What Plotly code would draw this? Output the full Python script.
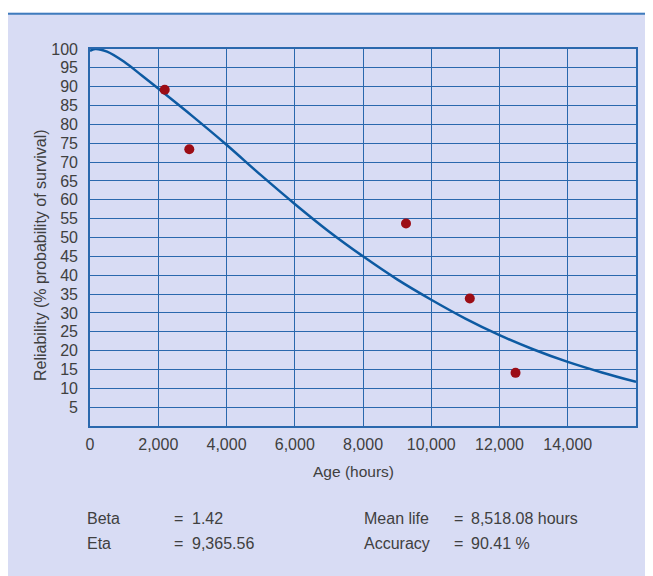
import plotly.graph_objects as go

# ---- data ----
curve_age = [0, 150, 500, 1000, 1500, 2000, 3000, 4000, 5000, 6000, 7000, 8000,
             9000, 10000, 11000, 12000, 13000, 14000, 15000, 16000]
curve_rel = [99.5, 100.0, 99.3, 96.6, 93.1, 89.5, 82.2, 74.6, 66.6, 58.9, 51.6, 45.0,
             38.9, 33.5, 28.5, 24.1, 20.3, 17.0, 14.2, 11.7]

obs_age = [2190, 2910, 9260, 11130, 12470]
obs_rel = [89.2, 73.4, 53.7, 33.8, 14.1]

x_tick_vals = [0, 2000, 4000, 6000, 8000, 10000, 12000, 14000]
x_tick_text = ["0", "2,000", "4,000", "6,000", "8,000", "10,000", "12,000", "14,000"]
y_tick_vals = list(range(5, 101, 5))

stat_labels_left = ["Beta", "Eta"]
stat_values_left = ["1.42", "9,365.56"]
stat_labels_right = ["Mean life", "Accuracy"]
stat_values_right = ["8,518.08 hours", "90.41 %"]

# ---- layout geometry (page has an 8px body margin) ----
OFF = 8
W, H = 645, 568
L, R, T, B = 82, 17, 41, 150
PW, PH = W - L - R, H - T - B


def px(xp):  # page pixel -> paper x
    return (xp - OFF - L) / PW


def py(yp):  # page pixel -> paper y
    return (H - B - (yp - OFF)) / PH


PANEL = "#d8dcf4"
GRID = "#2a68ad"
TXT = "#404040"
FONT = "Liberation Sans"

fig = go.Figure()
fig.add_trace(go.Scatter(x=curve_age, y=curve_rel, mode="lines",
                         line=dict(color="#0d5aa2", width=2.5, shape="spline", smoothing=1.0),
                         hoverinfo="skip", showlegend=False))
fig.add_trace(go.Scatter(x=obs_age, y=obs_rel, mode="markers",
                         marker=dict(color="#9c0d16", size=10),
                         showlegend=False))

shapes = [
    dict(type="rect", xref="paper", yref="paper", x0=px(0), x1=px(W + OFF + 5),
         y0=py(12.8), y1=py(-5), fillcolor="white", line=dict(width=0), layer="above"),
    dict(type="line", xref="paper", yref="paper", x0=px(0), x1=px(W + OFF + 5),
         y0=py(13.8), y1=py(13.8), line=dict(color="#3f7bbd", width=2)),
]

ann = []
ann.append(dict(text="Age (hours)", xref="paper", yref="paper", x=px(353), y=py(471),
                xanchor="center", yanchor="middle", showarrow=False,
                font=dict(family=FONT, size=15.5, color=TXT)))
ann.append(dict(text="Reliability (% probability of survival)", xref="paper", yref="paper",
                x=px(40), y=py(255), textangle=-90, xanchor="center", yanchor="middle",
                showarrow=False, font=dict(family=FONT, size=16, color=TXT)))
rows_y = [518.5, 543.5]
for i in range(2):
    for xpos, txt in [(85, stat_labels_left[i]), (172, "="), (190, stat_values_left[i]),
                      (362, stat_labels_right[i]), (452, "="), (469, stat_values_right[i])]:
        ann.append(dict(text=txt, xref="paper", yref="paper", x=px(xpos), y=py(rows_y[i]),
                        xanchor="left", yanchor="middle", showarrow=False,
                        font=dict(family=FONT, size=16, color=TXT)))

fig.update_layout(
    width=W, height=H, autosize=False,
    margin=dict(l=L, r=R, t=T, b=B, pad=0),
    paper_bgcolor=PANEL, plot_bgcolor=PANEL,
    shapes=shapes, annotations=ann,
    font=dict(family=FONT, size=16, color=TXT),
    xaxis=dict(range=[0, 16000], tickvals=x_tick_vals, ticktext=x_tick_text,
               showgrid=True, gridcolor=GRID, gridwidth=1.3,
               showline=True, linecolor=GRID, linewidth=1.6, mirror=True,
               zeroline=False, ticks="", ticklabelstandoff=3,
               tickfont=dict(family=FONT, size=16, color=TXT)),
    yaxis=dict(range=[0, 100], tickvals=y_tick_vals,
               showgrid=True, gridcolor=GRID, gridwidth=1.3,
               showline=True, linecolor=GRID, linewidth=1.6, mirror=True,
               zeroline=False, ticks="", ticklabelstandoff=7,
               tickfont=dict(family=FONT, size=16, color=TXT)),
)

fig.write_html("out.html")
